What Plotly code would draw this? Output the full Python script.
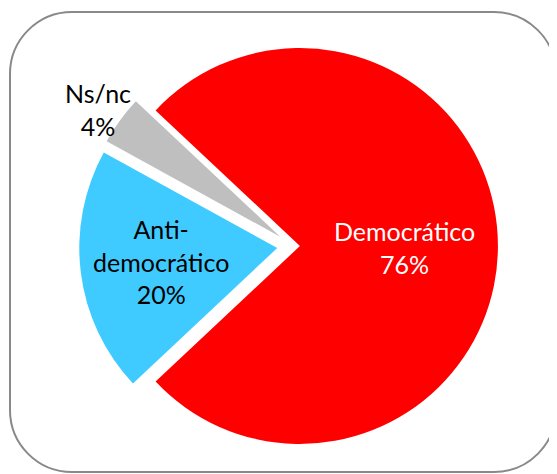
import plotly.graph_objects as go

# Data
categories = ["Democrático", "Anti-democrático", "Ns/nc"]
display_labels = ["Democrático", "Anti-<br>democrático", "Ns/nc"]
values = [76, 20, 4]
colors = ["#FF0000", "#3FCBFF", "#BFBFBF"]
pulls = [0.035, 0.08, 0.08]
text_colors = ["#FFFFFF", "#000000", "#000000"]

# The page body has the browser's default 8px margin, so the figure is
# sized to the visible window area and positions are given in window pixels.
WIN_W, WIN_H = 557, 474
OFF = 8
W, H = WIN_W - OFF, WIN_H - OFF
FONT = "Lato"
FSIZE = 25


def px(x):
    return (x - OFF) / W


def py(y):
    return 1 - (y - OFF) / H


# pie geometry (window pixels)
CX, CY, R = 293, 246, 198
half = R * (1 + max(pulls))

fig = go.Figure()
fig.add_trace(go.Pie(
    labels=categories,
    values=values,
    textinfo="none",
    marker=dict(colors=colors, line=dict(width=0)),
    pull=pulls,
    sort=False,
    direction="clockwise",
    rotation=-46.8,
    showlegend=False,
    hoverinfo="label+percent",
    domain=dict(x=[px(CX - half), px(CX + half)],
                y=[py(CY + half), py(CY - half)]),
))

# data labels (text from the data arrays)
label_pos = [(404, 247), (161, 261), (98, 110)]
total = sum(values)
for lab, v, col, (lx, ly) in zip(display_labels, values, text_colors, label_pos):
    fig.add_annotation(
        x=px(lx), y=py(ly), xref="paper", yref="paper",
        text=f"{lab}<br>{round(100 * v / total)}%",
        showarrow=False, xanchor="center", yanchor="middle",
        font=dict(family=FONT, size=FSIZE, color=col),
    )

# rounded chart-area border (cubic corners)
x0, x1, y0, y1, r = 10, 556, 12, 472, 62
k = 0.5523 * r


def P(x, y):
    return f"{px(x):.5f},{py(y):.5f}"


path = (f"M {P(x0 + r, y0)} L {P(x1 - r, y0)} "
        f"C {P(x1 - r + k, y0)} {P(x1, y0 + r - k)} {P(x1, y0 + r)} "
        f"L {P(x1, y1 - r)} "
        f"C {P(x1, y1 - r + k)} {P(x1 - r + k, y1)} {P(x1 - r, y1)} "
        f"L {P(x0 + r, y1)} "
        f"C {P(x0 + r - k, y1)} {P(x0, y1 - r + k)} {P(x0, y1 - r)} "
        f"L {P(x0, y0 + r)} "
        f"C {P(x0, y0 + r - k)} {P(x0 + r - k, y0)} {P(x0 + r, y0)} Z")
fig.add_shape(type="path", xref="paper", yref="paper", path=path,
              line=dict(color="#898989", width=2), layer="above")

fig.update_layout(
    width=W, height=H,
    margin=dict(l=0, r=0, t=0, b=0),
    paper_bgcolor="#FFFFFF",
    plot_bgcolor="#FFFFFF",
    font=dict(family=FONT),
)
fig.write_html("out.html")
